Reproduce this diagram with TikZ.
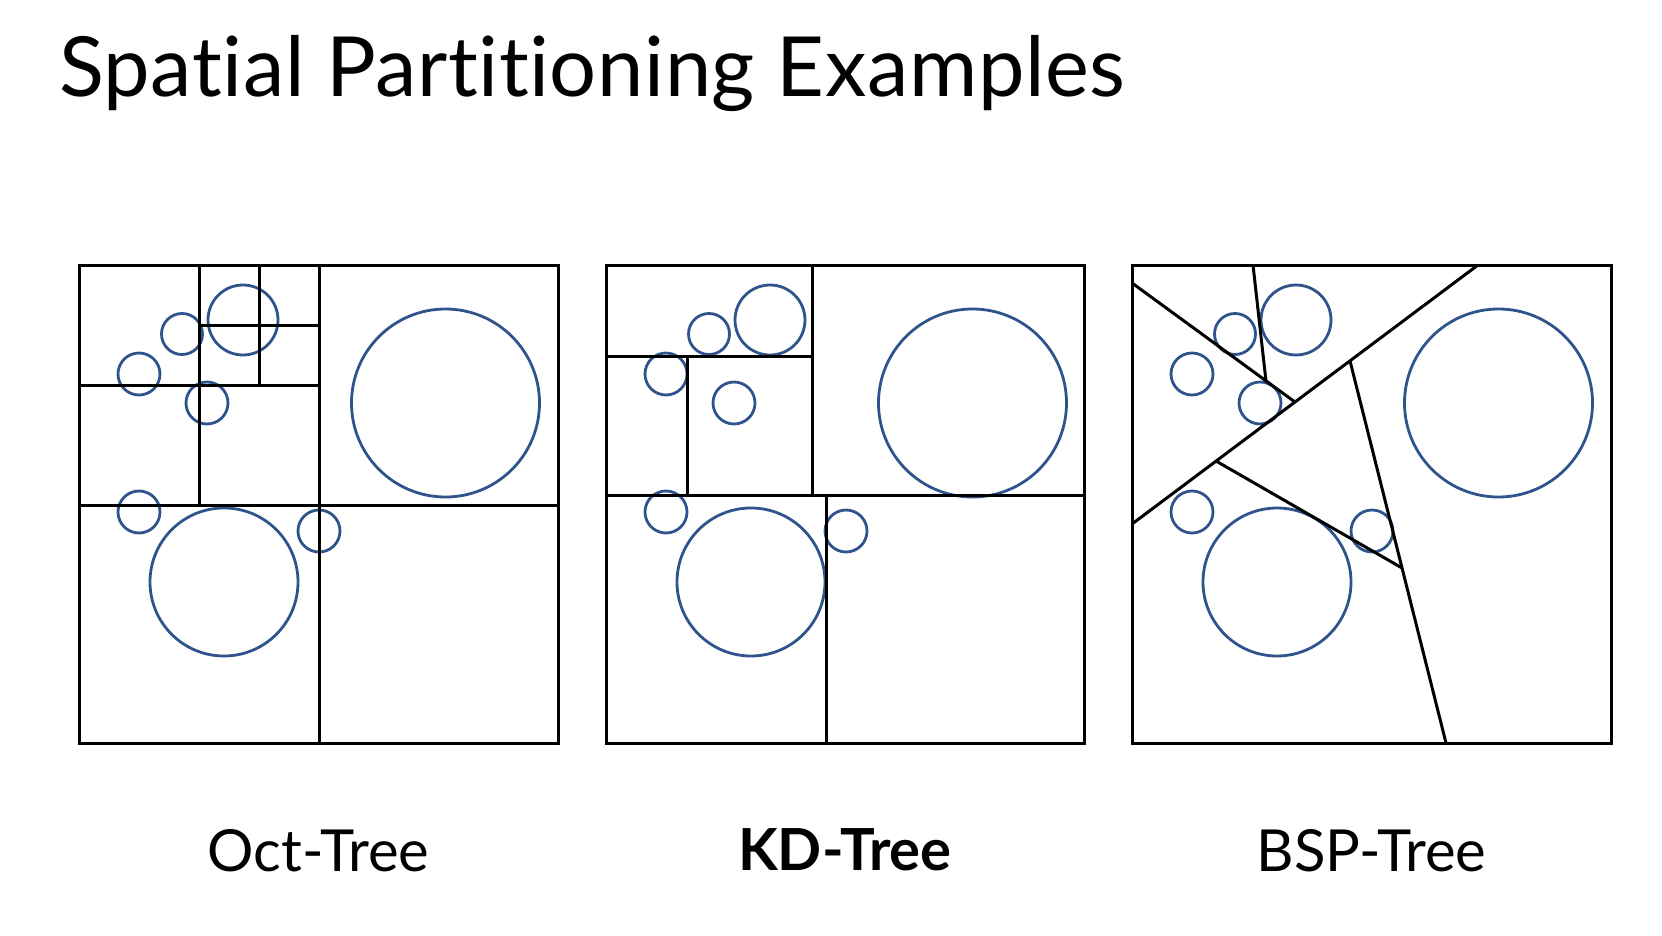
\documentclass[tikz,border=0pt]{standalone}
\usepackage{fontspec}
\setmainfont{Lato}[Ligatures=NoCommon]
\usepackage{tikz}
\usetikzlibrary{calc}

\definecolor{circblue}{RGB}{47,84,140}
\tikzset{
	part/.style={black,line width=3pt},
	circ/.style={circblue,line width=2.8pt},
	title/.style={anchor=base west,inner sep=0pt,font=\fontsize{83}{90}\selectfont\addfontfeatures{LetterSpace=0.7}},
	caption/.style={anchor=base,inner sep=0pt,font=\fontsize{58}{64}\selectfont}
}

\begin{document}
\begin{tikzpicture}[x=1pt,y=-1pt]
			\useasboundingbox (0,0) rectangle (1662,936);
			\node[title] (heading) at (59,97) {Spatial Partitioning Examples};
			\foreach \dx in {0,527,1053}
				\foreach \x/\y/\r in {182/334/20.5,139/374/21,243/320/35,207/403/21,139/512/21,319/531/21,224/582/74,445.5/403/94}
					\draw[circ] (\x+\dx,\y) circle[radius=\r];
			\draw[part] (79,265) rectangle (558,743);
			\draw[part] (319,265) -- (319,743) (79,505) -- (558,505);
			\draw[part] (199,265) -- (199,505) (79,385) -- (319,385);
			\draw[part] (259,265) -- (259,385) (199,325) -- (319,325);
			\draw[part] (606,265) rectangle (1084,743);
			\draw[part] (606,495) -- (1084,495) (812,265) -- (812,495);
			\draw[part] (606,356) -- (812,356) (687,356) -- (687,495);
			\draw[part] (826,495) -- (826,743);
			\draw[part] (1132,265) rectangle (1611,743);
			\coordinate (a1) at (1132,524);
			\coordinate (a2) at (1478,265);
			\coordinate (b1) at (1132,283);
			\coordinate (b2) at ($(a1)!0.471!(a2)$);
			\coordinate (c1) at (1253,265);
			\coordinate (d1) at ($(a1)!0.630!(a2)$);
			\coordinate (d2) at (1446,743);
			\coordinate (e1) at ($(a1)!0.243!(a2)$);
			\draw[part] (a1) -- (a2);
			\draw[part] (b1) -- (b2);
			\draw[part] (c1) -- ($(b1)!0.822!(b2)$);
			\draw[part] (d1) -- (d2);
			\draw[part] (e1) -- ($(d1)!0.542!(d2)$);
			\node[caption] (octlabel) at (318.5,871) {Oct-Tree};
			\node[caption] (kdlabel) at (845,870) {\bfseries KD-Tree};
			\node[caption] (bsplabel) at (1371.5,871) {BSP-Tree};
		\end{tikzpicture}
\end{document}
